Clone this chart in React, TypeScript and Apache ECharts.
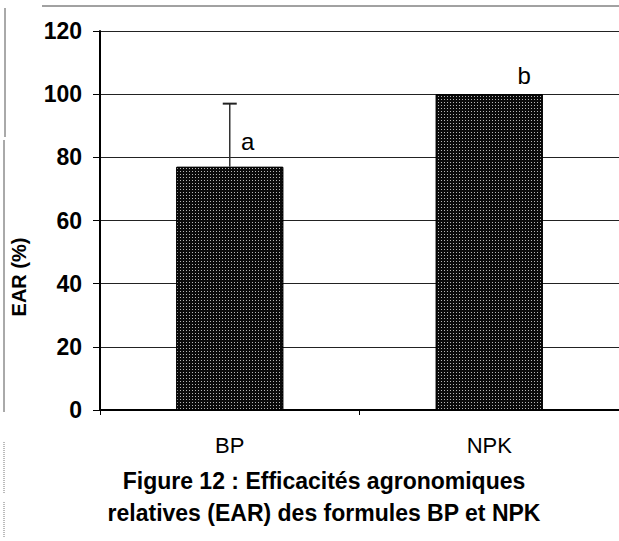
import React, { useEffect, useRef } from 'react';
import * as echarts from 'echarts';

const categories = ['BP', 'NPK'];
const earValues = [77, 100];
const errorUpper = [20, 0];
const letters = ['a', 'b'];
const yMin = 0;
const yMax = 120;
const yInterval = 20;
const yAxisTitle = 'EAR (%)';
const captionLines = [
  'Figure 12 : Efficacités agronomiques',
  'relatives (EAR) des formules BP et NPK',
];

const FONT = "'Liberation Sans', Arial, sans-serif";

export default function App() {
  const ref = useRef<HTMLDivElement>(null);

  useEffect(() => {
    if (!ref.current) return;
    const chart = echarts.init(ref.current, null, { renderer: 'svg' });

    const labelCfg = [
      { offset: [18, 0], distance: 13 },
      { offset: [35, 0], distance: 7 },
    ];

    chart.setOption({
      animation: false,
      backgroundColor: '#fff',
      grid: { left: 100, right: 0, top: 31, bottom: 131 },
      xAxis: {
        type: 'category',
        data: categories,
        axisLine: { lineStyle: { color: '#000', width: 2 } },
        axisTick: { show: true, length: 5, lineStyle: { color: '#000', width: 1 } },
        axisLabel: { color: '#000', fontSize: 22, fontFamily: FONT, margin: 24 },
        splitLine: { show: false },
      },
      yAxis: {
        type: 'value',
        min: yMin,
        max: yMax,
        interval: yInterval,
        axisLine: { show: true, lineStyle: { color: '#000', width: 2 } },
        axisTick: { show: true, length: 7, lineStyle: { color: '#000', width: 1 } },
        axisLabel: { color: '#000', fontSize: 23, fontWeight: 'bold', fontFamily: FONT, margin: 18 },
        splitLine: { show: true, lineStyle: { color: '#222', width: 1 } },
      },
      series: [
        {
          type: 'bar',
          barWidth: 107,
          data: earValues.map((v, i) => ({
            value: v,
            label: {
              show: true,
              position: 'top',
              formatter: letters[i],
              distance: labelCfg[i].distance,
              offset: labelCfg[i].offset,
              color: '#000',
              fontSize: 24,
              fontFamily: FONT,
            },
          })),
          itemStyle: {
            color: '#0a0a0a',
            borderColor: '#000',
            borderWidth: 1,
            decal: {
              symbol: 'rect',
              symbolSize: 1,
              color: 'rgba(255,255,255,0.7)',
              dashArrayX: [1, 2],
              dashArrayY: [1, 2],
              rotation: 0,
            },
          },
          z: 2,
        },
        {
          type: 'custom',
          z: 3,
          data: categories.map((c, i) => [i, earValues[i], earValues[i] + errorUpper[i]]),
          renderItem: (params: any, api: any) => {
            const base = api.coord([api.value(0), api.value(1)]);
            const top = api.coord([api.value(0), api.value(2)]);
            if (api.value(2) <= api.value(1)) return null;
            return {
              type: 'group',
              children: [
                {
                  type: 'line',
                  shape: { x1: base[0], y1: base[1], x2: top[0], y2: top[1] },
                  style: { stroke: '#333', lineWidth: 1.5 },
                },
                {
                  type: 'line',
                  shape: { x1: top[0] - 7, y1: top[1], x2: top[0] + 7, y2: top[1] },
                  style: { stroke: '#222', lineWidth: 2 },
                },
              ],
            };
          },
        },
      ],
      graphic: [
        {
          type: 'text',
          x: 19,
          y: 277,
          rotation: Math.PI / 2,
          style: {
            text: yAxisTitle,
            fill: '#000',
            font: `bold 20px ${FONT}`,
            textAlign: 'center',
            textVerticalAlign: 'middle',
          },
        },
        {
          type: 'text',
          x: 324,
          y: 481,
          style: {
            text: captionLines[0],
            fill: '#000',
            font: `bold 23px ${FONT}`,
            textAlign: 'center',
            textVerticalAlign: 'middle',
          },
        },
        {
          type: 'text',
          x: 324,
          y: 513,
          style: {
            text: captionLines[1],
            fill: '#000',
            font: `bold 23px ${FONT}`,
            textAlign: 'center',
            textVerticalAlign: 'middle',
          },
        },
        { type: 'line', shape: { x1: 42, y1: 6, x2: 619, y2: 6 }, style: { stroke: '#444', lineWidth: 1 } },
        { type: 'line', shape: { x1: 5, y1: 8, x2: 5, y2: 137 }, style: { stroke: '#555', lineWidth: 1 } },
        { type: 'line', shape: { x1: 4, y1: 140, x2: 4, y2: 412 }, style: { stroke: '#555', lineWidth: 1 } },
        { type: 'line', shape: { x1: 4, y1: 442, x2: 4, y2: 493 }, style: { stroke: '#777', lineWidth: 1, lineDash: [1, 1] } },
        { type: 'line', shape: { x1: 4, y1: 502, x2: 4, y2: 537 }, style: { stroke: '#777', lineWidth: 1, lineDash: [1, 1] } },
      ],
    });

    return () => chart.dispose();
  }, []);

  return (
    <div
      ref={ref}
      style={{ position: 'absolute', left: 0, top: 0, width: 619, height: 541 }}
    />
  );
}
